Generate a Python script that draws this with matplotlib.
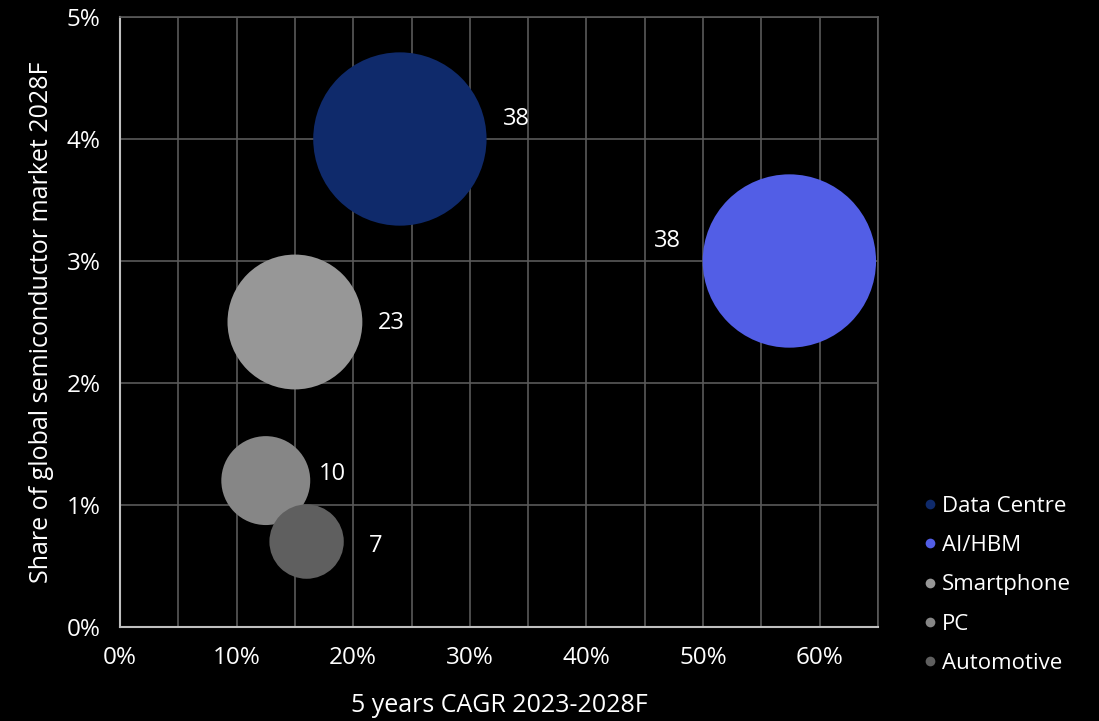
import matplotlib.pyplot as plt
from matplotlib.lines import Line2D
from matplotlib.ticker import FuncFormatter, MultipleLocator

# data
segments = ['Data Centre', 'AI/HBM', 'Smartphone', 'PC', 'Automotive']
cagr = [24.0, 57.4, 15.0, 12.5, 16.0]          # % x
share = [4.0, 3.0, 2.5, 1.2, 0.7]              # % y
size_value = [38, 38, 23, 10, 7]
colors = ['#0f2a6b', '#525ee6', '#979797', '#868686', '#5f5f5f']
label_offsets = [(117, 20), (-122, 20), (96, -1), (67, 7), (69, -4)]  # px from bubble centre

plt.rcParams['font.family'] = ['Open Sans', 'DejaVu Sans']

fig = plt.figure(figsize=(10.99, 7.21), dpi=100, facecolor='black')
ax = fig.add_axes([0.1092, 0.1304, 0.6897, 0.846])
ax.set_facecolor('black')

# bubble area proportional to value; 38 -> ~87px radius
k = (2 * 62.4) ** 2 / 38
ax.scatter(cagr, share, s=[v * k for v in size_value], c=colors, zorder=3, linewidths=0)

for x, y, v, (dx, dy) in zip(cagr, share, size_value, label_offsets):
    ax.annotate(str(v), (x, y), xytext=(dx * 0.72, dy * 0.72), textcoords='offset points',
                color='white', fontsize=17, ha='center', va='center', zorder=4)

ax.set_xlim(0, 65)
ax.set_ylim(0, 5)
ax.xaxis.set_major_locator(MultipleLocator(10))
ax.xaxis.set_minor_locator(MultipleLocator(5))
ax.yaxis.set_major_locator(MultipleLocator(1))
ax.xaxis.set_major_formatter(FuncFormatter(lambda v, p: f'{v:.0f}%'))
ax.yaxis.set_major_formatter(FuncFormatter(lambda v, p: f'{v:.0f}%'))
ax.grid(True, which='both', axis='x', color='#5a5a5a', linewidth=1.2, zorder=0)
ax.grid(True, which='major', axis='y', color='#5a5a5a', linewidth=1.2, zorder=0)
ax.set_axisbelow(True)

ax.tick_params(which='both', length=0, colors='white', labelsize=17.5)
ax.tick_params(axis='x', pad=14)
ax.tick_params(axis='y', pad=14)
for side in ['top', 'right']:
    ax.spines[side].set_color('#5a5a5a')
    ax.spines[side].set_linewidth(1.2)
for side in ['left', 'bottom']:
    ax.spines[side].set_color('#bfbfbf')
    ax.spines[side].set_linewidth(1.5)

ax.set_xlabel('5 years CAGR 2023-2028F', color='white', fontsize=18, labelpad=16)
ax.set_ylabel('Share of global semiconductor market 2028F', color='white', fontsize=18, labelpad=9)

handles = [Line2D([0], [0], marker='o', linestyle='', markersize=7, markerfacecolor=c,
                  markeredgewidth=0) for c in colors]
leg = fig.legend(handles, segments, loc='lower left', bbox_to_anchor=(0.826, 0.05),
                 frameon=False, fontsize=16, labelcolor='white', handletextpad=0.05,
                 handlelength=1.0, labelspacing=0.82, borderpad=0)

fig.savefig('out.png', facecolor='black')
